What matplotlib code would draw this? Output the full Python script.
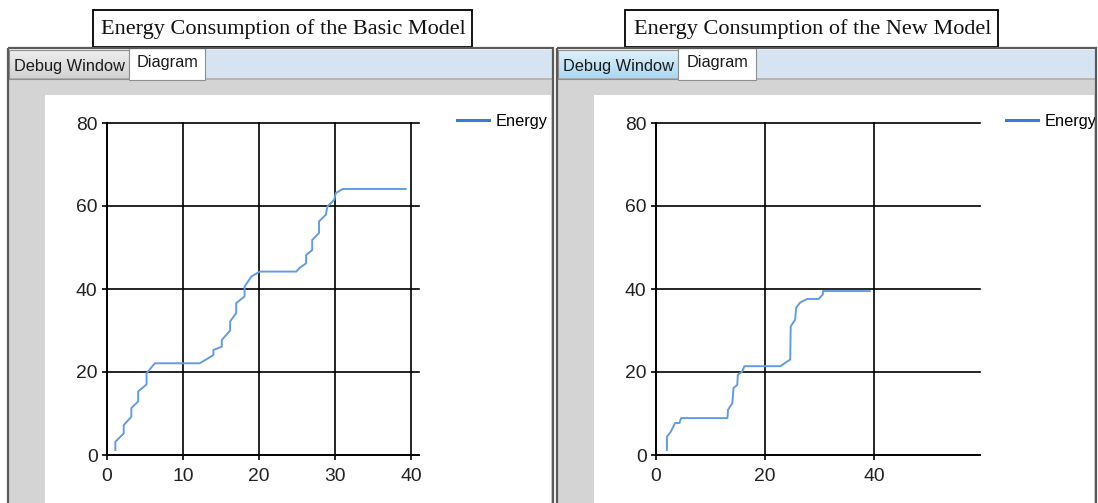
import numpy as np
import matplotlib
matplotlib.use("Agg")
import matplotlib.pyplot as plt
from matplotlib.patches import Rectangle
from matplotlib import font_manager

W, H = 1098, 503

# energy of the basic model
basic_x = [1.1, 1.1, 2.2, 2.2, 3.2, 3.2, 4.1, 4.1, 5.2, 5.2, 6.3,
           12.2, 13.3, 14.0, 14.0, 15.1, 15.1, 16.2, 16.2, 17.0, 17.0,
           18.1, 18.1, 19.0, 20.1, 24.9, 25.3, 26.2, 26.2, 27.0, 27.0,
           27.9, 27.9, 28.8, 29.0, 29.9, 30.1, 31.0, 39.3]
basic_y = [1.2, 3.2, 5.2, 7.2, 9.2, 11.3, 12.9, 15.3, 17.0, 19.7, 22.1,
           22.1, 23.3, 24.1, 25.3, 26.1, 27.7, 30.0, 32.2, 34.2, 36.6,
           38.2, 40.6, 43.0, 44.2, 44.2, 45.0, 46.2, 48.2, 49.4, 51.8,
           53.5, 56.3, 57.9, 59.9, 61.5, 63.1, 64.1, 64.1]

# energy of the new model (right diagram)
new_x = [2.0, 2.0, 2.7, 3.5, 4.3, 4.6, 13.1, 13.2, 14.0, 14.2, 14.9, 15.0,
         15.8, 16.2, 22.8, 23.7, 24.6, 24.7, 25.5, 25.7, 26.4, 27.7, 29.8,
         30.6, 30.6, 39.2]
new_y = [1.2, 4.4, 5.6, 7.7, 7.7, 8.9, 8.9, 10.9, 12.5, 16.1, 16.9, 19.3,
         20.1, 21.4, 21.4, 22.2, 23.0, 31.0, 32.6, 35.5, 36.7, 37.6, 37.6,
         38.7, 39.5, 39.5]

titles = ["Energy Consumption of the Basic Model",
          "Energy Consumption of the New Model"]
yticks = [0, 20, 40, 60, 80]
basic_xticks = [0, 10, 20, 30, 40]
new_xticks = [0, 20, 40]

# narrow sans if we have it, else the normal one a bit smaller
names = {f.name for f in font_manager.fontManager.ttflist}
if "Liberation Sans Narrow" in names:
    sans = ["Liberation Sans Narrow", "DejaVu Sans"]
    k = 1.0
else:
    sans = ["Liberation Sans", "DejaVu Sans"]
    k = 0.84
serif = ["Liberation Serif", "DejaVu Serif"]

fig = plt.figure(figsize=(W / 100, H / 100), dpi=100)
fig.patch.set_facecolor("white")

# background in pixel coordinates
bg = fig.add_axes([0, 0, 1, 1])
bg.set_xlim(0, W)
bg.set_ylim(H, 0)
bg.axis("off")


def rect(ax, x0, y0, x1, y1, fc, ec="none", lw=0, z=1):
    ax.add_patch(Rectangle((x0, y0), x1 - x0, y1 - y0, facecolor=fc,
                           edgecolor=ec, linewidth=lw, zorder=z))


def gradient(ax, x0, y0, x1, y1, c_top, c_bot, z=2):
    a = np.array(matplotlib.colors.to_rgb(c_top))
    b = np.array(matplotlib.colors.to_rgb(c_bot))
    t = np.linspace(0, 1, 30)[:, None]
    img = (a * (1 - t) + b * t)[:, None, :]
    ax.imshow(img, extent=(x0, x1, y1, y0), aspect="auto", zorder=z,
              interpolation="bilinear")


# panel: (left, right, debug tab end, diagram tab end, debug colours)
panels = [(8, 553, 129, 205, ("#ededed", "#d2d2d2")),
          (557, 1096, 678, 756, ("#dff0fb", "#aad8f3"))]

for i, (x0, x1, dbg, dia, dcol) in enumerate(panels):
    rect(bg, x0, 80, x1, H, "#d4d4d4")
    rect(bg, x0 + 37, 95, x1 - 2, H, "white", z=1.5)
    rect(bg, dia, 50, x1, 78, "#d6e4f1", z=2)
    bg.plot([x0, x1], [79, 79], color="#a8a8a8", lw=1.2, zorder=2.5)
    gradient(bg, x0 + 1, 50, dbg, 79, dcol[0], dcol[1])
    rect(bg, x0 + 1, 50, dbg, 79, "none", ec="#8e8e8e", lw=0.8, z=3)
    rect(bg, dbg, 47, dia, 80, "white", ec="#8e8e8e", lw=0.8, z=3)
    bg.text((x0 + dbg) / 2 + 1, 66, "Debug Window", ha="center",
            va="center", fontsize=14 * k, family=sans, color="#1a1a1a",
            zorder=4)
    bg.text((dbg + dia) / 2 + 1, 62, "Diagram", ha="center", va="center",
            fontsize=14 * k, family=sans, color="#1a1a1a", zorder=4)

# title boxes
for (bx0, bx1), t in zip([(93, 472), (625, 998)], titles):
    rect(bg, bx0, 10, bx1, 47, "white", ec="black", lw=1.3, z=3)
    bg.text((bx0 + bx1) / 2 + 1, 29, t, ha="center", va="center",
            fontsize=16, family=serif, color="#111111", zorder=4)


def chart(px0, px1, py0, py1, xmax, xs, ys, xticks, leg_x):
    ax = fig.add_axes([px0 / W, 1 - py1 / H, (px1 - px0) / W,
                       (py1 - py0) / H])
    ax.set_facecolor("none")
    ax.plot(xs, ys, color="#659be4", lw=1.4, label="Energy", zorder=3)
    ax.set_xlim(0, xmax)
    ax.set_ylim(0, 80)
    ax.set_xticks(xticks)
    ax.set_yticks(yticks)
    ax.grid(True, color="black", lw=1.2)
    for g in ax.get_xgridlines() + ax.get_ygridlines():
        g.set_clip_on(False)
    for s in ["top", "right"]:
        ax.spines[s].set_visible(False)
    for s in ["left", "bottom"]:
        ax.spines[s].set_linewidth(1.2)
    ax.tick_params(direction="out", length=3.8, width=1.2, color="black",
                   labelsize=16.5 * k, labelcolor="#222222")
    ax.tick_params(axis="x", pad=5.5)
    ax.tick_params(axis="y", pad=3)
    for lab in ax.get_xticklabels() + ax.get_yticklabels():
        lab.set_family(sans)
    leg = ax.legend(loc="upper left", bbox_to_anchor=(leg_x / W, 1 - 114 / H),
                    bbox_transform=fig.transFigure, frameon=False,
                    prop={"family": sans, "size": 14 * k},
                    handlelength=32 / (14 * k * 100 / 72),
                    handletextpad=0.4, borderpad=0, borderaxespad=0)
    leg.get_lines()[0].set_linewidth(2.2)
    leg.get_lines()[0].set_color("#3c7ad8")
    return ax


chart(107, 418.6, 123, 455, 41, basic_x, basic_y, basic_xticks, 457)
chart(656, 980, 123, 455, 59.4, new_x, new_y, new_xticks, 1006)

# frame borders drawn on top so legend text is clipped at the edge
top = fig.add_axes([0, 0, 1, 1], zorder=10)
top.set_xlim(0, W)
top.set_ylim(H, 0)
top.axis("off")
top.patch.set_alpha(0)
rect(top, 1097, 40, W, H, "white", z=1)
for x0, x1, *_ in panels:
    rect(top, x0, 48, x1, H + 5, "none", ec="#5a5a5a", lw=1.6, z=2)

fig.savefig("out.png", dpi=100)
